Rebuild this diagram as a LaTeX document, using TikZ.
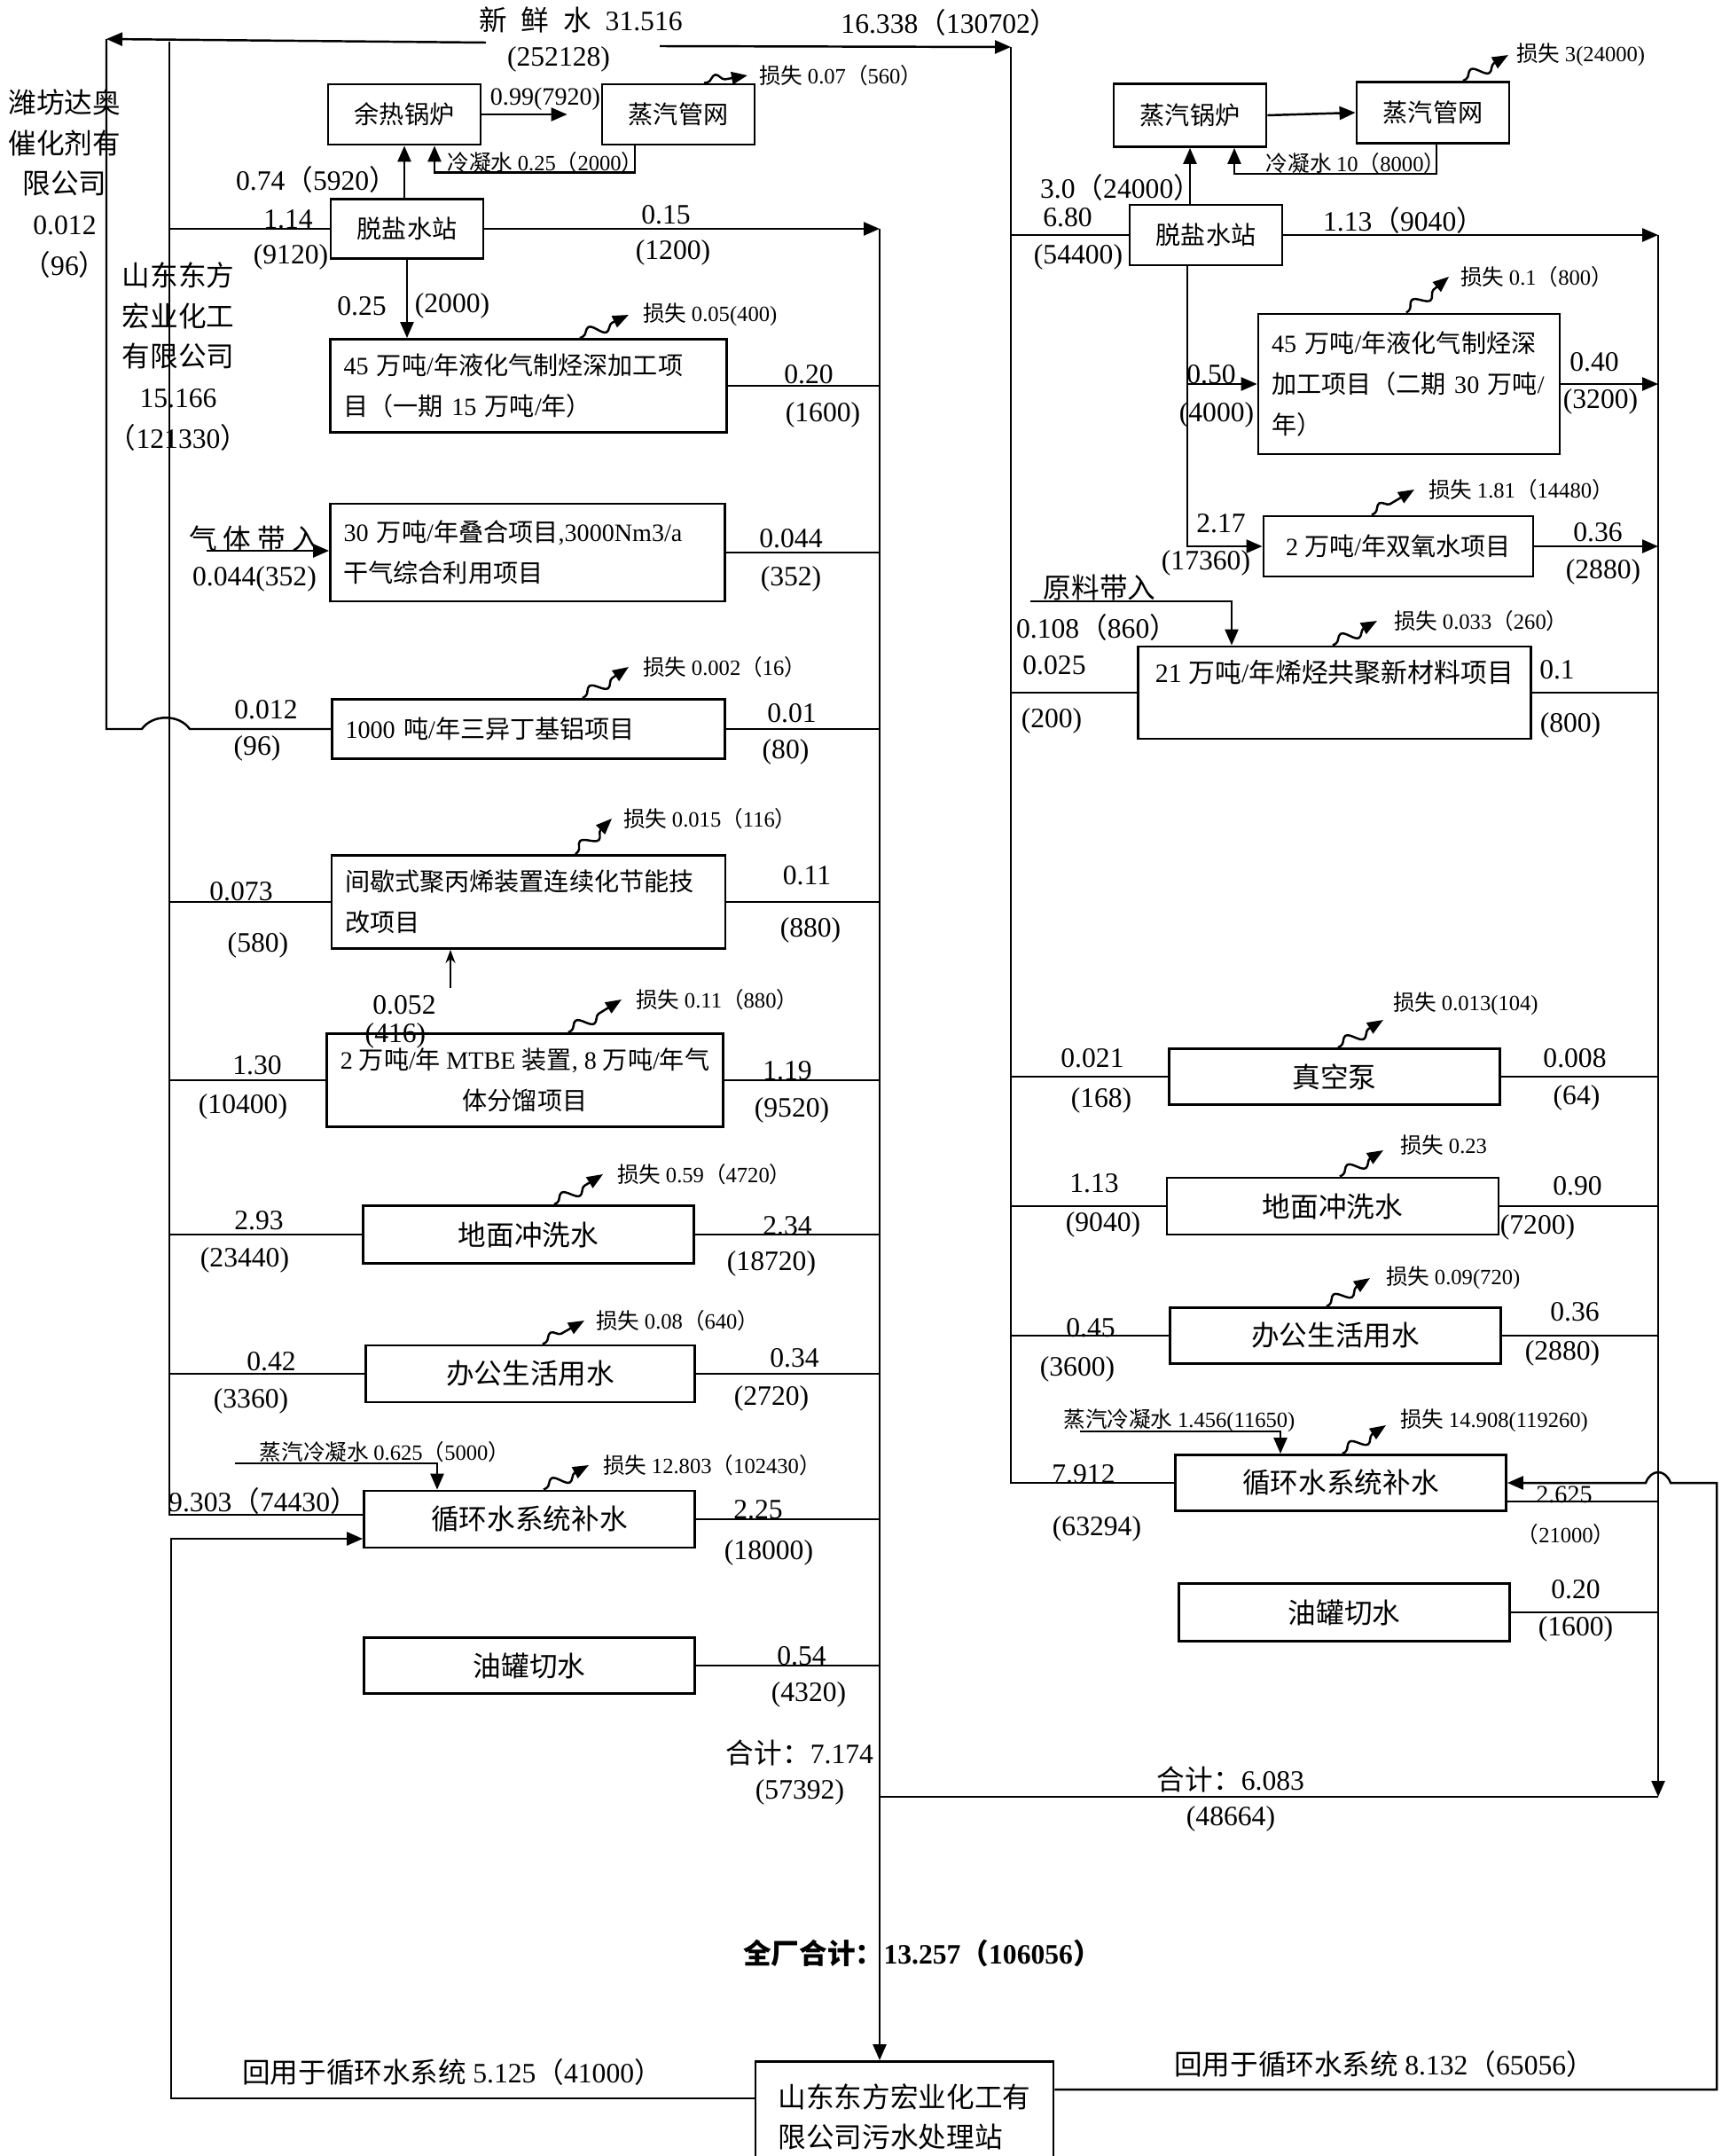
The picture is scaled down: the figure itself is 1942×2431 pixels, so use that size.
\documentclass[tikz,border=0pt]{standalone}
\usepackage{fontspec}
\setmainfont{Liberation Serif}
\newfontfamily\cjkfont{Noto Sans CJK SC}
% switch to the CJK family for Han characters and full-width punctuation
\newXeTeXintercharclass\cjkclass
\makeatletter
\def\cjk@setclass#1#2{\count@=#1\relax
  \loop
    \XeTeXcharclass\count@=\cjkclass
  \ifnum\count@<#2\relax
    \advance\count@ by 1
  \repeat}
\cjk@setclass{"3000}{"303F}
\cjk@setclass{"4E00}{"9FFF}
\cjk@setclass{"FF00}{"FFEF}
\makeatother
\XeTeXinterchartoks 0 \cjkclass = {\cjkfont}
\XeTeXinterchartoks 4095 \cjkclass = {\cjkfont}
\XeTeXinterchartoks \cjkclass 0 = {\rmfamily}
\XeTeXinterchartoks 4095 0 = {\rmfamily}
\XeTeXinterchartokenstate=1
\usetikzlibrary{arrows.meta, decorations.pathmorphing}
\tikzset{
  unitbox/.style={rectangle, draw=black, line width=0.8pt, inner sep=0, text centered, font=\fontsize{9}{11}\selectfont},
  projbox/.style={rectangle, draw=black, line width=0.8pt, inner xsep=1.5mm, inner ysep=0, align=left, font=\fontsize{8}{13}\selectfont},
  lbl/.style={inner sep=0, font=\fontsize{9}{11}\selectfont},
  lblsmall/.style={inner sep=0, font=\fontsize{7}{9}\selectfont},
  flow/.style={-{Triangle[length=1.8mm,width=1.5mm]}},
  lossarrow/.style={-{Triangle[length=1.8mm,width=1.4mm]}, decorate,
    decoration={snake, amplitude=0.7mm, segment length=3.2mm, pre length=0.4mm, post length=1.6mm}}
}

\begin{document}
\begin{tikzpicture}[x=0.1mm, y=-0.1mm, line width=0.7pt]
  \useasboundingbox (0,0) rectangle (1942,2431);

  % left plant
  \node[unitbox, font=\fontsize{8}{10}\selectfont, minimum width=17.2mm, minimum height=6.8mm] (yr) at (456,129) {余热锅炉};
  \node[unitbox, font=\fontsize{8}{10}\selectfont, minimum width=17.2mm, minimum height=6.8mm] (gwL) at (765,129) {蒸汽管网};
  \node[unitbox, font=\fontsize{8}{10}\selectfont, minimum width=17.2mm, minimum height=6.7mm] (tyL) at (459,258) {脱盐水站};
  \node[projbox, text width=41.7mm, minimum height=10.5mm] (p45a) at (596,435) {45 万吨/年液化气制烃深加工项\\目（一期 15 万吨/年）};
  \node[projbox, text width=41.5mm, minimum height=11mm] (p30) at (595,623) {30 万吨/年叠合项目,3000Nm3/a\\干气综合利用项目};
  \node[projbox, text width=41.3mm, minimum height=6.7mm] (p1000) at (596,822) {1000 吨/年三异丁基铝项目};
  \node[projbox, text width=41.4mm, minimum height=10.5mm] (pPP) at (596,1017) {间歇式聚丙烯装置连续化节能技\\改项目};
  \node[projbox, align=center, minimum width=44.5mm, minimum height=10.5mm] (pMTBE) at (592,1218) {2 万吨/年 MTBE 装置, 8 万吨/年气\\体分馏项目};
  \node[unitbox, minimum width=37.3mm, minimum height=6.5mm] (dmL) at (596,1392) {地面冲洗水};
  \node[unitbox, minimum width=37.1mm, minimum height=6.4mm] (bgL) at (598,1549) {办公生活用水};
  \node[unitbox, minimum width=37.3mm, minimum height=6.4mm] (xhL) at (597,1713) {循环水系统补水};
  \node[unitbox, minimum width=37.3mm, minimum height=6.3mm] (yqL) at (597,1878) {油罐切水};
  \node[projbox, font=\fontsize{9}{12.8}\selectfont, inner xsep=0, minimum width=33.6mm, minimum height=12.5mm] (ws) at (1020,2387) {山东东方宏业化工有\\限公司污水处理站};

  % right plant
  \node[unitbox, font=\fontsize{8}{10}\selectfont, minimum width=17.2mm, minimum height=7.1mm] (gl) at (1342,130) {蒸汽锅炉};
  \node[unitbox, font=\fontsize{8}{10}\selectfont, minimum width=17.2mm, minimum height=6.9mm] (gwR) at (1616,127) {蒸汽管网};
  \node[unitbox, font=\fontsize{8}{10}\selectfont, minimum width=17.2mm, minimum height=6.8mm] (tyR) at (1360,265) {脱盐水站};
  \node[projbox, text width=31mm, minimum height=15.8mm] (p45b) at (1589,433) {45 万吨/年液化气制烃深\\加工项目（二期 30 万吨/\\年）};
  \node[unitbox, font=\fontsize{8}{10}\selectfont, minimum width=30.4mm, minimum height=6.8mm] (pH2O2) at (1577,616) {2 万吨/年双氧水项目};
  \node[projbox, align=center, inner xsep=0.5mm, font=\fontsize{8.5}{14}\selectfont, minimum width=44.3mm, minimum height=10.4mm] (p21) at (1505,781) {21 万吨/年烯烃共聚新材料项目\\\mbox{}};
  \node[unitbox, minimum width=37.3mm, minimum height=6.3mm] (zkb) at (1505,1214) {真空泵};
  \node[unitbox, minimum width=37.4mm, minimum height=6.4mm] (dmR) at (1503,1360) {地面冲洗水};
  \node[unitbox, minimum width=37.3mm, minimum height=6.3mm] (bgR) at (1506,1506) {办公生活用水};
  \node[unitbox, minimum width=37.3mm, minimum height=6.3mm] (xhR) at (1512,1672) {循环水系统补水};
  \node[unitbox, minimum width=37.3mm, minimum height=6.5mm] (yqR) at (1516,1818) {油罐切水};

  % bus lines and free ends
  \coordinate (busA) at (120,44);
  \coordinate (busB) at (191,47);
  \coordinate (busD) at (1140,53);
  \coordinate (busR1) at (992,258);
  \coordinate (busR2) at (1870,265);
  \coordinate (busR3) at (1936,1672);
  \coordinate (sumR) at (1870,2026);
  \coordinate (Ctop) at (193,1735);
  \coordinate (fwL) at (548,48);
  \coordinate (fwR) at (744,52);
  \coordinate (gasIn) at (233,621);
  \coordinate (ppIn) at (508,1114);
  \coordinate (scL) at (265,1650);
  \coordinate (scR) at (1218,1614);
  \coordinate (ylIn) at (1162,678);

  % fresh water
  \node[lbl] (qFresh) at (655,22) {新\enspace 鲜\enspace 水\enspace 31.516};
  \node[lbl] (qFresh2) at (630,67) {(252128)};
  \node[lbl] (qFreshR) at (1071,25) {16.338（130702）};
  \node[lbl, align=center, font=\fontsize{9}{13}\selectfont] (nmWf) at (73,207) {潍坊达奥\\催化剂有\\限公司\\0.012\\（96）};
  \node[lbl, align=center, font=\fontsize{9}{13}\selectfont] (nmSd) at (201,402) {山东东方\\宏业化工\\有限公司\\15.166\\（121330）};
  \draw[flow] (fwL) -- (busA);
  \draw[flow] (fwR) -- (busD);

  % left connectors
  \draw (busA) -- (busA |- p1000.west) -- (160,822) .. controls (172,805) and (202,805) .. (214,822) -- (p1000.west);
  \draw (busB) |- ([yshift=0.5mm]xhL.west);
  \draw (busB |- tyL.west) -- (tyL.west);
  \draw (busB |- pPP.west) -- (pPP.west);
  \draw (busB |- pMTBE.west) -- (pMTBE.west);
  \draw (busB |- dmL.west) -- (dmL.west);
  \draw (busB |- bgL.west) -- (bgL.west);
  \draw[flow] ([yshift=2.1mm]ws.west) -| (Ctop) -- (Ctop -| xhL.west);
  \draw[flow] (yr.south |- tyL.north) -- (yr.south);
  \draw[flow, shorten >=3.8mm] (yr.east) -- (gwL.west);
  \draw[flow] ([xshift=-4.9mm]gwL.south) -- ++(0,30) -| ([xshift=3.4mm]yr.south);
  \draw[flow] (tyL.south) -- (tyL.south |- p45a.north);
  \draw[flow] (tyL.east) -- (busR1);
  \draw[flow] (busR1) -- (busR1 |- ws.north);
  \draw (p45a.east) -- (p45a.east -| busR1);
  \draw (p30.east) -- (p30.east -| busR1);
  \draw (p1000.east) -- (p1000.east -| busR1);
  \draw (pPP.east) -- (pPP.east -| busR1);
  \draw (pMTBE.east) -- (pMTBE.east -| busR1);
  \draw (dmL.east) -- (dmL.east -| busR1);
  \draw (bgL.east) -- (bgL.east -| busR1);
  \draw (xhL.east) -- (xhL.east -| busR1);
  \draw (yqL.east) -- (yqL.east -| busR1);
  \draw[flow] (gasIn) -- (gasIn -| p30.west);
  \draw[-{Stealth[length=1.5mm,width=1.1mm]}, line width=0.5pt] (ppIn) -- (ppIn |- pPP.south);
  \draw[flow] (scL) -| ([xshift=-10.4mm]xhL.north);

  % left labels
  \node[lbl] (qYr) at (357,202) {0.74（5920）};
  \node[lbl] (qTyIn) at (325,247) {1.14};
  \node[lbl] (qTyIn2) at (328,290) {(9120)};
  \node[lbl] (qTyOut) at (751,242) {0.15};
  \node[lbl] (qTyOut2) at (759,285) {(1200)};
  \node[lbl, font=\fontsize{8}{10}\selectfont] (qSteamL) at (615,112) {0.99(7920)};
  \node[lblsmall] (qCondL) at (615,183) {冷凝水 0.25（2000）};
  \node[lblsmall, anchor=west] (sGwL) at (855,85) {损失 0.07（560）};
  \node[lbl] (qP45a) at (408,345) {0.25};
  \node[lbl] (qP45a2) at (510,345) {(2000)};
  \node[lblsmall, anchor=west] (sP45a) at (724,355) {损失 0.05(400)};
  \node[lbl] (qP45aOut) at (912,422) {0.20};
  \node[lbl] (qP45aOut2) at (928,468) {(1600)};
  \node[lbl] (qGas) at (287,607) {气 体 带 入};
  \node[lbl] (qGas2) at (287,653) {0.044(352)};
  \node[lbl] (qP30Out) at (892,607) {0.044};
  \node[lbl] (qP30Out2) at (892,653) {(352)};
  \node[lblsmall, anchor=west] (sP1000) at (724,752) {损失 0.002（16）};
  \node[lbl] (qP1000In) at (300,800) {0.012};
  \node[lbl] (qP1000In2) at (290,844) {(96)};
  \node[lbl] (qP1000Out) at (893,804) {0.01};
  \node[lbl] (qP1000Out2) at (886,848) {(80)};
  \node[lblsmall, anchor=west] (sPP) at (702,923) {损失 0.015（116）};
  \node[lbl] (qPPIn) at (272,1005) {0.073};
  \node[lbl] (qPPIn2) at (291,1066) {(580)};
  \node[lbl] (qPPOut) at (910,987) {0.11};
  \node[lbl] (qPPOut2) at (914,1049) {(880)};
  \node[lbl] (qPPUp) at (456,1133) {0.052};
  \node[lbl] (qPPUp2) at (446,1168) {(416)};
  \node[lblsmall, anchor=west] (sMTBE) at (716,1127) {损失 0.11（880）};
  \node[lbl] (qMTBEIn) at (290,1201) {1.30};
  \node[lbl] (qMTBEIn2) at (274,1248) {(10400)};
  \node[lbl] (qMTBEOut) at (888,1207) {1.19};
  \node[lbl] (qMTBEOut2) at (893,1252) {(9520)};
  \node[lblsmall, anchor=west] (sDmL) at (695,1324) {损失 0.59（4720）};
  \node[lbl] (qDmLIn) at (292,1376) {2.93};
  \node[lbl] (qDmLIn2) at (276,1421) {(23440)};
  \node[lbl] (qDmLOut) at (888,1382) {2.34};
  \node[lbl] (qDmLOut2) at (870,1425) {(18720)};
  \node[lblsmall, anchor=west] (sBgL) at (671,1489) {损失 0.08（640）};
  \node[lbl] (qBgLIn) at (306,1535) {0.42};
  \node[lbl] (qBgLIn2) at (283,1580) {(3360)};
  \node[lbl] (qBgLOut) at (896,1531) {0.34};
  \node[lbl] (qBgLOut2) at (870,1577) {(2720)};
  \node[lblsmall] (qScL) at (434,1637) {蒸汽冷凝水 0.625（5000）};
  \node[lblsmall, anchor=west] (sXhL) at (679,1652) {损失 12.803（102430）};
  \node[lbl] (qXhLIn) at (297,1692) {9.303（74430）};
  \node[lbl] (qXhLOut) at (855,1702) {2.25};
  \node[lbl] (qXhLOut2) at (867,1751) {(18000)};
  \node[lbl] (qYqLOut) at (904,1867) {0.54};
  \node[lbl] (qYqLOut2) at (912,1911) {(4320)};
  \node[lbl] (qSumL) at (902,1976) {合计：7.174};
  \node[lbl] (qSumL2) at (902,2021) {(57392)};
  \node[lbl, font=\fontsize{9}{11}\selectfont\bfseries] (qTotal) at (1040,2202) {全厂合计：13.257（106056）};
  \node[lbl] (qBackL) at (510,2336) {回用于循环水系统 5.125（41000）};

  % left losses
  \draw[lossarrow] ([xshift=2.9mm]gwL.north) -- ([xshift=-1.2mm]sGwL.west);
  \draw[lossarrow] ([xshift=5.8mm]p45a.north) -- ([xshift=-1.5mm]sP45a.west);
  \draw[lossarrow] ([xshift=6.1mm]p1000.north) -- ([xshift=-1.5mm]sP1000.west);
  \draw[lossarrow] ([xshift=5.3mm]pPP.north) -- ([xshift=-1.2mm]sPP.west);
  \draw[lossarrow] ([xshift=4.9mm]pMTBE.north) -- ([xshift=-1.5mm]sMTBE.west);
  \draw[lossarrow] ([xshift=2.9mm]dmL.north) -- ([xshift=-1.5mm]sDmL.west);
  \draw[lossarrow] ([xshift=1.4mm]bgL.north) -- ([xshift=-1.2mm]sBgL.west);
  \draw[lossarrow] ([xshift=1.6mm]xhL.north) -- ([xshift=-1.5mm]sXhL.west);

  % right connectors
  \draw (busD) |- (xhR.west);
  \draw (busD |- tyR.west) -- (tyR.west);
  \draw (busD |- p21.west) -- (p21.west);
  \draw (busD |- zkb.west) -- (zkb.west);
  \draw (busD |- dmR.west) -- (dmR.west);
  \draw (busD |- bgR.west) -- (bgR.west);
  \draw[flow] (gl.south |- tyR.north) -- (gl.south);
  \draw[flow] (gl.east) -- (gwR.west);
  \draw[flow] ([xshift=0.4mm]gwR.south) -- ++(0,33) -| ([xshift=5mm]gl.south);
  \draw[flow] ([xshift=-2.1mm]tyR.south) |- (pH2O2.west);
  \draw[flow] ([xshift=-2.1mm]tyR.south |- p45b.west) -- (p45b.west);
  \draw[flow] (tyR.east) -- (busR2);
  \draw[flow] (busR2) -- (sumR);
  \draw (sumR) -- (sumR -| busR1);
  \draw[flow] (p45b.east) -- (p45b.east -| busR2);
  \draw[flow] (pH2O2.east) -- (pH2O2.east -| busR2);
  \draw (p21.east) -- (p21.east -| busR2);
  \draw (zkb.east) -- (zkb.east -| busR2);
  \draw (dmR.east) -- (dmR.east -| busR2);
  \draw (bgR.east) -- (bgR.east -| busR2);
  \draw ([yshift=-2.1mm]xhR.east) -- ([yshift=-2.1mm]xhR.east -| busR2);
  \draw (yqR.east) -- (yqR.east -| busR2);
  \draw[flow] ([yshift=3.1mm]ws.east) -| (busR3) -- (1884,1672) .. controls (1878,1656) and (1862,1656) .. (1856,1672) -- (xhR.east);
  \draw[flow] (ylIn) -| ([xshift=-11.6mm]p21.north);
  \draw[flow] (scR) -| ([xshift=-6.8mm]xhR.north);

  % right labels
  \node[lbl] (qGl) at (1264,211) {3.0（24000）};
  \node[lbl] (qTyRIn) at (1204,245) {6.80};
  \node[lbl] (qTyRIn2) at (1216,290) {(54400)};
  \node[lbl] (qTyROut) at (1583,248) {1.13（9040）};
  \node[lblsmall, anchor=west] (sGwR) at (1709,62) {损失 3(24000)};
  \node[lblsmall] (qCondR) at (1529,184) {冷凝水 10（8000）};
  \node[lbl] (qP45bIn) at (1366,422) {0.50};
  \node[lbl] (qP45bIn2) at (1372,468) {(4000)};
  \node[lblsmall, anchor=west] (sP45b) at (1646,312) {损失 0.1（800）};
  \node[lbl] (qP45bOut) at (1798,408) {0.40};
  \node[lbl] (qP45bOut2) at (1805,453) {(3200)};
  \node[lbl] (qH2O2In) at (1377,590) {2.17};
  \node[lbl] (qH2O2In2) at (1360,635) {(17360)};
  \node[lblsmall, anchor=west] (sH2O2) at (1610,552) {损失 1.81（14480）};
  \node[lbl] (qH2O2Out) at (1802,600) {0.36};
  \node[lbl] (qH2O2Out2) at (1808,645) {(2880)};
  \node[lbl] (qYl) at (1240,662) {原料带入};
  \node[lbl] (qYl2) at (1237,707) {0.108（860）};
  \node[lbl] (qP21In) at (1189,750) {0.025};
  \node[lbl] (qP21In2) at (1186,813) {(200)};
  \node[lblsmall, anchor=west] (sP21) at (1571,700) {损失 0.033（260）};
  \node[lbl] (qP21Out) at (1756,755) {0.1};
  \node[lbl] (qP21Out2) at (1771,818) {(800)};
  \node[lblsmall, anchor=west] (sZkb) at (1570,1132) {损失 0.013(104)};
  \node[lbl] (qZkbIn) at (1232,1193) {0.021};
  \node[lbl] (qZkbIn2) at (1242,1241) {(168)};
  \node[lbl] (qZkbOut) at (1776,1193) {0.008};
  \node[lbl] (qZkbOut2) at (1778,1238) {(64)};
  \node[lblsmall, anchor=west] (sDmR) at (1578,1291) {损失 0.23};
  \node[lbl] (qDmRIn) at (1234,1334) {1.13};
  \node[lbl] (qDmRIn2) at (1244,1381) {(9040)};
  \node[lbl] (qDmROut) at (1779,1337) {0.90};
  \node[lbl] (qDmROut2) at (1734,1384) {(7200)};
  \node[lblsmall, anchor=west] (sBgR) at (1562,1441) {损失 0.09(720)};
  \node[lbl] (qBgRIn) at (1230,1497) {0.45};
  \node[lbl] (qBgRIn2) at (1215,1544) {(3600)};
  \node[lbl] (qBgROut) at (1776,1479) {0.36};
  \node[lbl] (qBgROut2) at (1762,1526) {(2880)};
  \node[lblsmall] (qScR) at (1330,1602) {蒸汽冷凝水 1.456(11650)};
  \node[lblsmall, anchor=west] (sXhR) at (1578,1602) {损失 14.908(119260)};
  \node[lbl] (qXhRIn) at (1222,1662) {7.912};
  \node[lbl] (qXhRIn2) at (1237,1724) {(63294)};
  \node[lbl, font=\fontsize{8}{10}\selectfont] (qXhROut) at (1764,1685) {2.625};
  \node[lblsmall] (qXhROut2) at (1766,1730) {（21000）};
  \node[lbl] (qYqROut) at (1777,1792) {0.20};
  \node[lbl] (qYqROut2) at (1777,1837) {(1600)};
  \node[lbl] (qSumR) at (1388,2006) {合计：6.083};
  \node[lbl] (qSumR2) at (1388,2051) {(48664)};
  \node[lbl] (qBackR) at (1561,2327) {回用于循环水系统 8.132（65056）};

  % right losses
  \draw[lossarrow] ([xshift=3.4mm]gwR.north) -- ([xshift=-0.8mm]sGwR.west);
  \draw[lossarrow] ([xshift=-0.3mm]p45b.north) -- ([xshift=-1.2mm]sP45b.west);
  \draw[lossarrow] ([xshift=-3mm]pH2O2.north) -- ([xshift=-1.5mm]sH2O2.west);
  \draw[lossarrow] ([xshift=-0.2mm]p21.north) -- ([xshift=-1.8mm]sP21.west);
  \draw[lossarrow] ([xshift=0.4mm]zkb.north) -- ([xshift=-1mm,yshift=-1.8mm]sZkb.west);
  \draw[lossarrow] ([xshift=0.8mm]dmR.north) -- ([xshift=-1.8mm,yshift=-0.6mm]sDmR.west);
  \draw[lossarrow] ([xshift=-1mm]bgR.north) -- ([xshift=-1.7mm]sBgR.west);
  \draw[lossarrow] ([xshift=0.2mm]xhR.north) -- ([xshift=-1.5mm,yshift=-0.5mm]sXhR.west);
\end{tikzpicture}
\end{document}
